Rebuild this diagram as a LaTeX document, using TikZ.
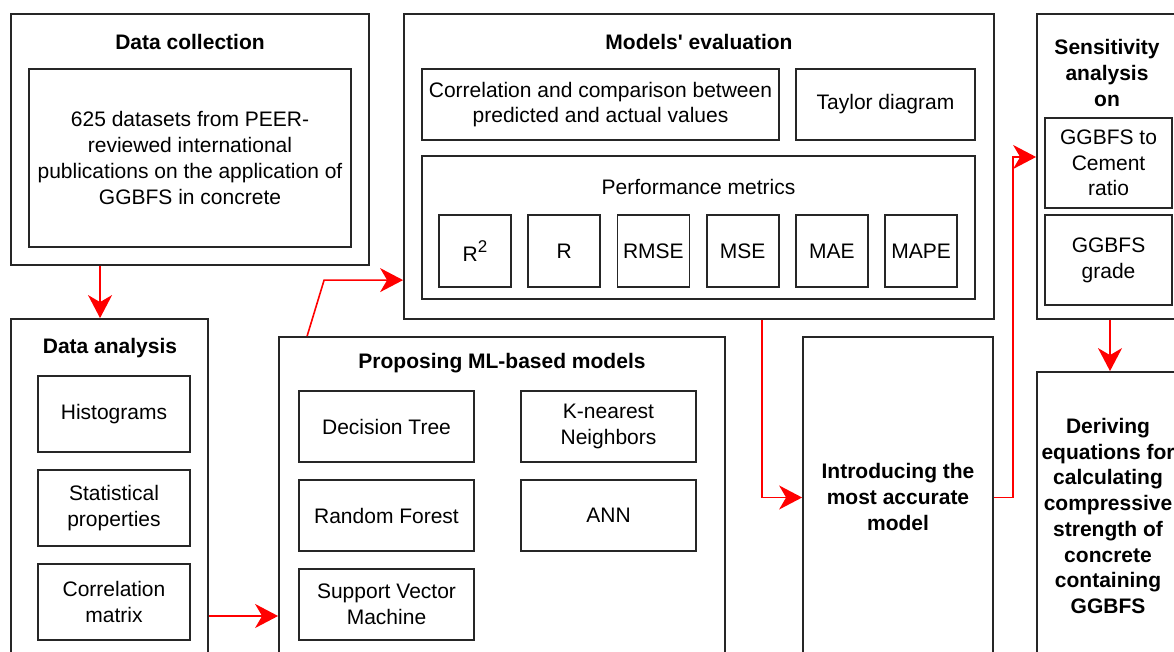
\documentclass[tikz,border=0pt]{standalone}
\usepackage{fontspec}
\setmainfont{Liberation Sans}
\usetikzlibrary{arrows.meta,calc}
\newcommand{\fs}{\fontsize{21}{25.7}\selectfont}
\tikzset{
  box/.style={draw=black!85, line width=1.8pt, inner sep=0pt, align=center, font=\fs},
  ttl/.style={font=\fs\bfseries, align=center, inner sep=0pt},
  arr/.style={draw=red, line width=1.6pt, -{Stealth[length=23pt,width=24pt,inset=7pt]}},
}
\begin{document}
\begin{tikzpicture}[x=1pt,y=-1pt]
\useasboundingbox (0,0) rectangle (1174,652);
\clip (0,0) rectangle (1174,652);
% data collection
\node[box, minimum width=358pt, minimum height=251pt] (dc) at (190,139.5) {};
\node[ttl] (dct) at (190,42) {Data collection};
\node[box, minimum width=322pt, minimum height=178pt] (dcs) at (190,158) {625 datasets from PEER-\\reviewed international\\publications on the application of\\GGBFS in concrete};
% data analysis
\node[box, minimum width=197pt, minimum height=381pt] (da) at (109.5,509.5) {};
\node[ttl] (dat) at (110,348) {Data analysis};
\foreach \y/\t/\n in {414/Histograms/hist, 508/{Statistical\\properties}/stat, 602/{Correlation\\matrix}/cm}
  \node[box, minimum width=152pt, minimum height=76pt] (\n) at (114,\y) {\t};
% ML models
\node[box, minimum width=446pt, minimum height=363pt] (prop) at (502,518.5) {};
\node[ttl] (propt) at (502,363) {Proposing ML-based models};
\foreach \x/\y/\t/\n in {386.5/426.5/Decision Tree/dt, 608.5/426.5/{K-nearest\\Neighbors}/knn, 386.5/515.5/Random Forest/rf, 608.5/515.5/ANN/ann, 386.5/604.5/{Support Vector\\Machine}/svm}
  \node[box, minimum width=175pt, minimum height=71pt] (\n) at (\x,\y) {\t};
% evaluation
\node[box, minimum width=590pt, minimum height=305pt] (me) at (699,166.5) {};
\node[ttl] (met) at (699,42) {Models\textquotesingle{} evaluation};
\node[box, minimum width=357pt, minimum height=71pt] (cmp) at (600.5,104.5) {Correlation and comparison between\\predicted and actual values};
\node[box, minimum width=179pt, minimum height=71pt] (tay) at (885.5,104.5) {Taylor diagram};
\node[box, minimum width=553pt, minimum height=143pt] (pm) at (698.5,227.5) {};
\node[font=\fs, inner sep=0pt] (pmt) at (698.5,187) {Performance metrics};
\foreach \t [count=\i from 0] in {R\raisebox{9pt}{\fontsize{17}{17}\selectfont 2}, R, RMSE, MSE, MAE, MAPE}
  \node[box, minimum size=72pt] (m\i) at (475+89.2*\i,251) {\t};
% best model
\node[box, minimum width=190pt, minimum height=363pt] (intro) at (898,518.5) {};
\node[ttl] (introt) at (898,497) {Introducing the\\most accurate\\model};
% sensitivity
\node[box, minimum width=146pt, minimum height=305pt] (sens) at (1110,166.5) {};
\node[ttl] (senst) at (1107,73) {Sensitivity\\analysis\\on};
\node[box, minimum width=127pt, minimum height=90pt] (gc) at (1108.5,163) {GGBFS to\\Cement\\ratio};
\node[box, minimum width=127pt, minimum height=90pt] (gg) at (1108.5,260) {GGBFS\\grade};
\node[box, minimum width=146pt, minimum height=328pt] (der) at (1110,536) {};
\node[ttl] (dert) at (1108,516) {Deriving\\equations for\\calculating\\compressive\\strength of\\concrete\\containing\\GGBFS};
% arrows
\draw[arr] ($(dc.south west)!0.25!(dc.south east)$) coordinate (a1) -- (a1 |- da.north);
\draw[arr] ([yshift=-14pt]cm.east -| da.east) coordinate (a2) -- (a2 -| prop.west);
\draw[arr] ([xshift=29pt]prop.north west) -- ([xshift=46pt,yshift=56pt]prop.north west) coordinate (a3) -- (a3 -| me.west);
\draw[arr] ([xshift=63pt]me.south) |- ([yshift=21pt]intro.west);
\draw[arr] ([yshift=21pt]intro.east) -- ++(19pt,0) |- ([yshift=9.5pt]sens.west);
\draw[arr] (sens.south) -- (der.north);
\end{tikzpicture}
\end{document}
